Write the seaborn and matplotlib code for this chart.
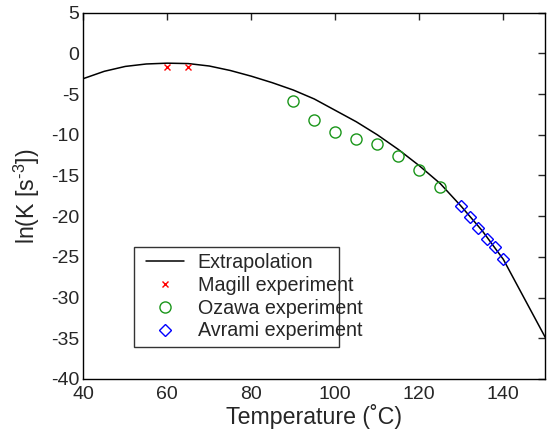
import matplotlib
matplotlib.use("Agg")
import matplotlib.pyplot as plt
from matplotlib.lines import Line2D
from matplotlib.legend_handler import HandlerLine2D
import seaborn as sns
import pandas as pd

# Extrapolation curve
curve_T = [40, 45, 50, 55, 60, 65, 70, 75, 80, 85, 90, 95, 100, 105, 110, 115, 120, 125, 130, 135, 140, 145, 150]
curve_lnK = [-3.1, -2.2, -1.6, -1.3, -1.2, -1.25, -1.55, -2.1, -2.8, -3.6, -4.5, -5.6, -7.0, -8.4, -10.0,
             -11.8, -13.8, -16.0, -18.8, -21.8, -25.3, -30.1, -34.9]

magill_T = [60, 65]
magill_lnK = [-1.7, -1.7]

ozawa_T = [90, 95, 100, 105, 110, 115, 120, 125]
ozawa_lnK = [-5.8, -8.2, -9.7, -10.5, -11.1, -12.6, -14.3, -16.4]

avrami_T = [130, 132, 134, 136, 138, 140]
avrami_lnK = [-18.7, -20.1, -21.4, -22.8, -23.8, -25.3]

sns.set_style("white")
plt.rcParams['font.family'] = ['Liberation Sans', 'DejaVu Sans']
plt.rcParams['mathtext.fontset'] = 'custom'
plt.rcParams['mathtext.rm'] = 'Liberation Sans'
plt.rcParams['mathtext.it'] = 'Liberation Sans'
plt.rcParams['axes.unicode_minus'] = False

fig = plt.figure(figsize=(5.49, 4.32), dpi=100)
ax = fig.add_axes([0.1517, 0.1227, 0.8416, 0.8479])

df_c = pd.DataFrame({"T": curve_T, "lnK": curve_lnK})
df_m = pd.DataFrame({"T": magill_T, "lnK": magill_lnK})
df_o = pd.DataFrame({"T": ozawa_T, "lnK": ozawa_lnK})
df_a = pd.DataFrame({"T": avrami_T, "lnK": avrami_lnK})

sns.lineplot(data=df_c, x="T", y="lnK", ax=ax, color="black", linewidth=1.1, label="Extrapolation")
ax.plot(df_m["T"], df_m["lnK"], linestyle="none", marker="x", color="#ff0000",
        markersize=4, markeredgewidth=1.0, label="Magill experiment")
ax.plot(df_o["T"], df_o["lnK"], linestyle="none", marker="o", markerfacecolor="none",
        markeredgecolor="#1a961a", markersize=8, markeredgewidth=1.0, label="Ozawa experiment")
ax.plot(df_a["T"], df_a["lnK"], linestyle="none", marker="D", markerfacecolor="none",
        markeredgecolor="#0000ff", markersize=6, markeredgewidth=1.0, label="Avrami experiment")

ax.set_xlim(40, 150)
ax.set_ylim(-40, 5)
ax.set_xticks([40, 60, 80, 100, 120, 140])
ax.set_yticks(list(range(-40, 6, 5)))
ax.tick_params(direction="in", length=5, width=1, top=True, right=True, labelsize=14)
ax.tick_params(axis="x", pad=5)
ax.tick_params(axis="y", pad=3)
for s in ax.spines.values():
    s.set_linewidth(1.0)
    s.set_color("black")

ax.set_xlabel("Temperature (\u02daC)", fontsize=16.7, labelpad=1)
ax.set_ylabel(r"ln(K [s$^{\text{-3}}$])", fontsize=16.7, labelpad=6)

leg = ax.legend(loc="lower left", bbox_to_anchor=(0.11, 0.088, 0.444, 0.273), mode="expand",
                fontsize=14.2, frameon=True, fancybox=False, edgecolor="black",
                borderaxespad=0, handlelength=2.2, labelspacing=0.19, borderpad=0.32,
                handletextpad=0.7, handler_map={Line2D: HandlerLine2D(xpad=0.3)})
leg.get_frame().set_linewidth(1.0)

fig.savefig("out.png", dpi=100)
